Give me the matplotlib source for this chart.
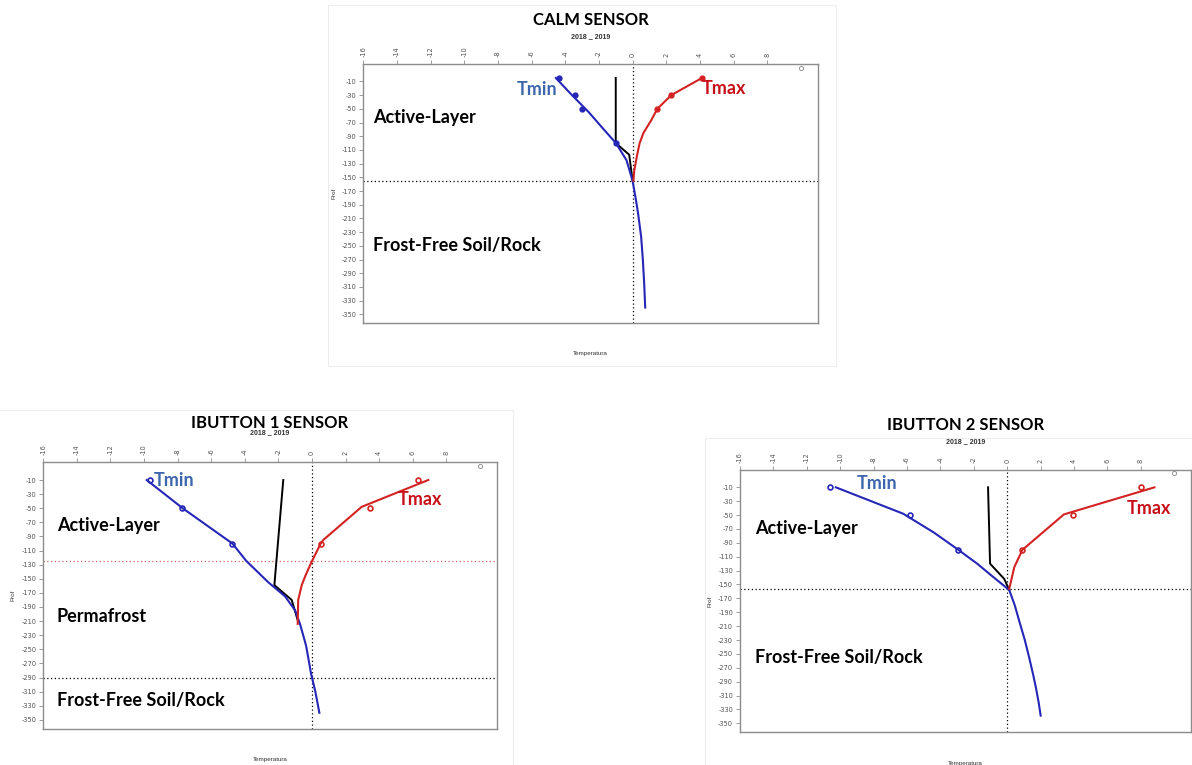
import matplotlib
matplotlib.use("Agg")
import matplotlib.pyplot as plt
from matplotlib.patches import Rectangle

plt.rcParams["axes.unicode_minus"] = False

W, H = 1192, 765

# ---- CALM sensor ----
calm_tmin_prof = [-5, -30, -50, -100]
calm_tmin_temp = [-4.37, -3.42, -3.02, -0.99]
calm_tmax_prof = [-5, -30, -50]
calm_tmax_temp = [4.12, 2.30, 1.47]
calm_min_curve_prof = [-5, -30, -55, -79, -100, -125, -155, -180, -203, -237, -270, -305, -340]
calm_min_curve_temp = [-4.56, -3.6, -2.6, -1.75, -0.99, -0.36, 0.0, 0.18, 0.33, 0.51, 0.61, 0.69, 0.75]
calm_max_curve_prof = [-5, -30, -50, -67, -85, -100, -120, -140, -155]
calm_max_curve_temp = [4.12, 2.30, 1.47, 1.10, 0.65, 0.42, 0.25, 0.10, 0.05]
calm_mean_prof = [-5, -100, -117, -155]
calm_mean_temp = [-1.0, -1.0, -0.2, 0.0]

# ---- iButton 1 ----
ib1_tmin_prof = [-10, -50, -100]
ib1_tmin_temp = [-9.66, -7.76, -4.74]
ib1_tmax_prof = [-10, -50, -100]
ib1_tmax_temp = [6.33, 3.45, 0.52]
ib1_min_curve_prof = [-10, -50, -100, -125, -155, -175, -195, -215, -245, -285, -310, -340]
ib1_min_curve_temp = [-9.84, -7.7, -4.74, -3.9, -2.6, -1.6, -1.0, -0.7, -0.35, -0.05, 0.2, 0.44]
ib1_max_curve_prof = [-10, -48, -95, -100, -126, -145, -159, -180, -214]
ib1_max_curve_temp = [6.92, 2.96, 0.67, 0.52, -0.02, -0.38, -0.61, -0.82, -0.85]
ib1_mean_prof = [-10, -159, -180, -211]
ib1_mean_temp = [-1.71, -2.24, -1.21, -0.82]

# ---- iButton 2 ----
ib2_tmin_prof = [-10, -50, -100]
ib2_tmin_temp = [-10.64, -5.83, -2.93]
ib2_tmax_prof = [-10, -50, -100]
ib2_tmax_temp = [8.02, 3.93, 0.87]
ib2_min_curve_prof = [-10, -48, -75, -100, -120, -138, -158, -180, -202, -230, -255, -280, -298, -320, -339]
ib2_min_curve_temp = [-10.26, -6.23, -4.4, -2.93, -1.8, -0.9, 0.12, 0.45, 0.71, 1.05, 1.31, 1.55, 1.71, 1.88, 2.0]
ib2_max_curve_prof = [-10, -49, -100, -125, -156]
ib2_max_curve_temp = [8.81, 3.39, 0.91, 0.42, 0.12]
ib2_mean_prof = [-10, -120, -142, -158]
ib2_mean_temp = [-1.15, -1.03, -0.18, 0.12]

top_ticks = list(range(-16, 10, 2))
prof_ticks = list(range(-10, -351, -20))

BLUE = "#2626b8"
RED = "#d42222"
TXT_BLUE = "#3d66ad"
TXT_RED = "#c8101a"
FONT = ["Lato", "DejaVu Sans"]
SMALL = ["Liberation Sans", "DejaVu Sans"]

fig = plt.figure(figsize=(W / 100, H / 100), dpi=100)

# faint frames of the three plot images
for x0, y0, x1, y1 in [(328, 5, 836, 366), (-2, 410, 513, 767), (705, 438, 1194, 767)]:
    fig.patches.append(Rectangle((x0 / W, 1 - y1 / H), (x1 - x0) / W, (y1 - y0) / H,
                                 transform=fig.transFigure, fill=False,
                                 edgecolor="#ededed", linewidth=0.8))


def panel(left, right, top, bottom, title, title_y, sub_y, temp_y, prof_x):
    ax = fig.add_axes([left / W, 1 - bottom / H, (right - left) / W, (bottom - top) / H])
    ax.set_xlim(-16, 11)
    ax.set_ylim(-363, 15)
    for s in ax.spines.values():
        s.set_color("#8c8c8c")
        s.set_linewidth(1.0)
    ax.xaxis.set_ticks_position("top")
    ax.set_xticks(top_ticks)
    ax.set_xticklabels([str(t) for t in top_ticks], rotation=90)
    ax.set_yticks(prof_ticks)
    ax.tick_params(axis="both", colors="#8c8c8c", labelcolor="#555555",
                   labelsize=4.8, length=3, width=0.6, pad=2)
    ax.plot([10], [10], "o", mfc="none", mec="#888888", ms=3, mew=0.6)
    ax.axvline(0, color="black", linestyle=(0, (1, 2)), linewidth=0.9)
    cx = (left + right) / 2 / W
    fig.text(cx, 1 - title_y / H, title, ha="center", va="center",
             fontsize=12, fontweight="bold", family=FONT)
    fig.text(cx, 1 - sub_y / H, "2018 _ 2019", ha="center", va="center",
             fontsize=5, fontweight="bold", family=SMALL, color="#333333")
    fig.text(cx, 1 - temp_y / H, "Temperatura", ha="center", va="center",
             fontsize=4.5, family=SMALL, color="#333333")
    fig.text(prof_x / W, 1 - ((top + bottom) / 2) / H, "Prof", ha="center", va="center",
             rotation=90, fontsize=4.5, family=SMALL, color="#333333")
    return ax


def label(ax, x, y, s, color="black", ha="left"):
    ax.text(x, y, s, color=color, ha=ha, va="center", fontsize=13,
            fontweight="bold", family=FONT)


# CALM SENSOR
ax = panel(363.3, 817.7, 64.3, 323.3, "CALM SENSOR", 20, 37, 354, 334)
ax.axhline(-155, color="black", linestyle=(0, (1, 2)), linewidth=0.9)
ax.plot(calm_mean_temp, calm_mean_prof, color="black", lw=1.4)
ax.plot(calm_min_curve_temp, calm_min_curve_prof, color=BLUE, lw=1.5)
ax.plot(calm_max_curve_temp, calm_max_curve_prof, color=RED, lw=1.5)
ax.plot(calm_tmin_temp, calm_tmin_prof, "o", color=BLUE, ms=3.5)
ax.plot(calm_tmax_temp, calm_tmax_prof, "o", color=RED, ms=3.5)
label(ax, -5.7, -22, "Tmin", TXT_BLUE, "center")
label(ax, 5.45, -20, "Tmax", TXT_RED, "center")
label(ax, -15.4, -62, "Active-Layer")
label(ax, -15.4, -250, "Frost-Free Soil/Rock")

# IBUTTON 1 SENSOR
ax = panel(43.3, 496.7, 462.4, 729.0, "IBUTTON 1 SENSOR", 423, 433, 760, 13)
ax.axhline(-125, color="#d06060", linestyle=(0, (1, 2)), linewidth=0.9)
ax.axhline(-290, color="black", linestyle=(0, (1, 2)), linewidth=0.9)
ax.plot(ib1_mean_temp, ib1_mean_prof, color="black", lw=1.4)
ax.plot(ib1_min_curve_temp, ib1_min_curve_prof, color=BLUE, lw=1.5)
ax.plot(ib1_max_curve_temp, ib1_max_curve_prof, color=RED, lw=1.5)
ax.plot(ib1_tmin_temp, ib1_tmin_prof, "o", mfc="none", mec=BLUE, ms=3.5, mew=1.2)
ax.plot(ib1_tmax_temp, ib1_tmax_prof, "o", mfc="none", mec=RED, ms=3.5, mew=1.2)
label(ax, -9.4, -11, "Tmin", TXT_BLUE)
label(ax, 6.4, -37, "Tmax", TXT_RED, "center")
label(ax, -15.2, -75, "Active-Layer")
label(ax, -15.2, -203, "Permafrost")
label(ax, -15.2, -323, "Frost-Free Soil/Rock")

# IBUTTON 2 SENSOR
ax = panel(740.0, 1191.0, 470.0, 732.3, "IBUTTON 2 SENSOR", 425, 442, 763, 710)
ax.axhline(-157, color="black", linestyle=(0, (1, 2)), linewidth=0.9)
ax.plot(ib2_mean_temp, ib2_mean_prof, color="black", lw=1.4)
ax.plot(ib2_min_curve_temp, ib2_min_curve_prof, color=BLUE, lw=1.5)
ax.plot(ib2_max_curve_temp, ib2_max_curve_prof, color=RED, lw=1.5)
ax.plot(ib2_tmin_temp, ib2_tmin_prof, "o", mfc="none", mec=BLUE, ms=3.5, mew=1.2)
ax.plot(ib2_tmax_temp, ib2_tmax_prof, "o", mfc="none", mec=RED, ms=3.5, mew=1.2)
label(ax, -7.8, -5, "Tmin", TXT_BLUE, "center")
label(ax, 8.5, -41, "Tmax", TXT_RED, "center")
label(ax, -15.1, -70, "Active-Layer")
label(ax, -15.1, -255, "Frost-Free Soil/Rock")

fig.savefig("out.png", dpi=100)
